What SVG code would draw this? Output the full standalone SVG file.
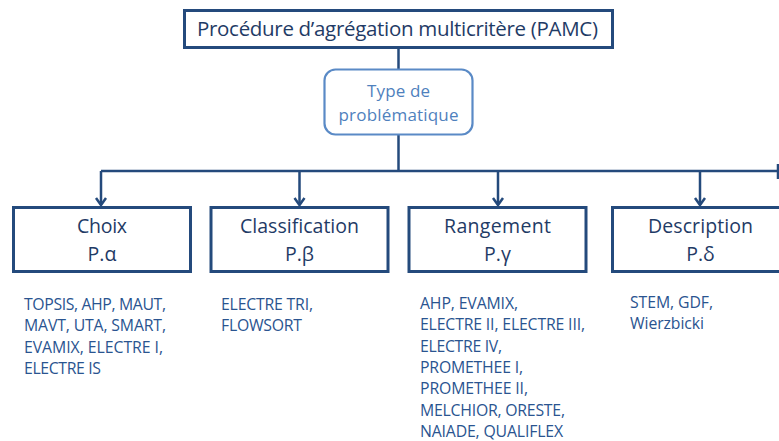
<svg xmlns="http://www.w3.org/2000/svg" width="779" height="441" viewBox="0 0 779 441">
<style>
.box{fill:#fff;stroke:#244A7C;stroke-width:3}
.tbox{fill:#fff;stroke:#5A8AC6;stroke-width:2.2}
.ln{fill:none;stroke:#244A7C;stroke-width:2.5}
.arr{fill:none;stroke:#244A7C;stroke-width:2.5;stroke-linejoin:miter}
.t{font-family:"Open Sans","Noto Sans",sans-serif;fill:#1F3B66}
.h{font-size:19.5px;text-anchor:middle}
.ty{font-family:"Open Sans","Noto Sans",sans-serif;fill:#4F81BD;font-size:17px;text-anchor:middle}
.l{font-family:"Open Sans","Noto Sans",sans-serif;fill:#2A5490;font-size:15.8px}
</style>
<rect width="779" height="441" fill="#fff"/>
<g id="connectors">
<path class="ln" d="M398.5 48V70"/>
<path class="ln" d="M398.5 135V171"/>
<path class="ln" d="M101 171H778M778 164V179"/>
<path class="ln" d="M101 171V205M299.5 171V205M498 171V205M700 171V205"/>
<path class="arr" d="M96 198L101 205L106 198M294.5 198L299.5 205L304.5 198M493 198L498 205L503 198M695 198L700 205L705 198"/>
</g>
<g id="pamc">
<rect class="box" x="184.5" y="10.5" width="428" height="37"/>
<text class="t" x="397.5" y="36" font-size="20.5" text-anchor="middle" textLength="401">Procédure d’agrégation multicritère (PAMC)</text>
</g>
<g id="type">
<rect class="tbox" x="324.5" y="69.5" width="148" height="65" rx="11"/>
<text class="ty" x="398.5" y="97" textLength="63">Type de</text>
<text class="ty" x="398.5" y="121" textLength="120">problématique</text>
</g>
<g id="choix">
<rect class="box" x="13.5" y="207.5" width="177" height="64"/>
<text class="t h" x="102" y="233" textLength="50">Choix</text>
<text class="t h" x="102" y="261">P.α</text>
<text class="l"><tspan x="24" y="310" textLength="142">TOPSIS, AHP, MAUT,</tspan><tspan x="24" y="331.3" textLength="142">MAVT, UTA, SMART,</tspan><tspan x="24" y="352.6" textLength="139">EVAMIX, ELECTRE I,</tspan><tspan x="24" y="373.9" textLength="77">ELECTRE IS</tspan></text>
</g>
<g id="classification">
<rect class="box" x="211" y="207.5" width="177" height="64"/>
<text class="t h" x="299.5" y="233" textLength="119">Classification</text>
<text class="t h" x="299.5" y="261">P.β</text>
<text class="l"><tspan x="221" y="310" textLength="92">ELECTRE TRI,</tspan><tspan x="221" y="331.3" textLength="81">FLOWSORT</tspan></text>
</g>
<g id="rangement">
<rect class="box" x="409" y="207.5" width="177" height="64"/>
<text class="t h" x="497.5" y="233" textLength="107">Rangement</text>
<text class="t h" x="497.5" y="261">P.γ</text>
<text class="l"><tspan x="420" y="309" textLength="98">AHP, EVAMIX,</tspan><tspan x="420" y="330.3" textLength="165">ELECTRE II, ELECTRE III,</tspan><tspan x="420" y="351.6" textLength="82">ELECTRE IV,</tspan><tspan x="420" y="372.9" textLength="103">PROMETHEE I,</tspan><tspan x="420" y="394.2" textLength="108">PROMETHEE II,</tspan><tspan x="420" y="415.5" textLength="145">MELCHIOR, ORESTE,</tspan><tspan x="420" y="436.8" textLength="143">NAIADE, QUALIFLEX</tspan></text>
</g>
<g id="description">
<rect class="box" x="612.5" y="207.5" width="178" height="64"/>
<text class="t h" x="700.5" y="233" textLength="105">Description</text>
<text class="t h" x="700.5" y="261">P.δ</text>
<text class="l"><tspan x="630" y="308" textLength="83">STEM, GDF,</tspan><tspan x="630" y="329.3" textLength="74">Wierzbicki</tspan></text>
</g>
</svg>
